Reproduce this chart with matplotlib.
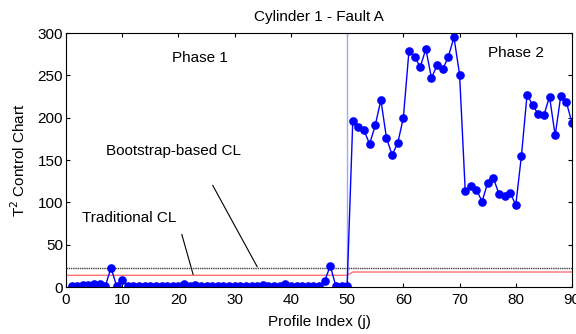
import numpy as np
import matplotlib
matplotlib.use("Agg")
import matplotlib.pyplot as plt

plt.rcParams["font.family"] = ["Liberation Sans", "DejaVu Sans"]

# T^2 statistic per profile index (1..90)
phase1_t2 = [1.0, 1.0, 2.0, 2.0, 3.5, 3.5, 1.0, 23.0, 1.0, 8.5,
             1.0, 1.0, 1.0, 1.0, 1.0, 1.0, 1.0, 1.0, 1.0, 1.0,
             3.0, 1.5, 2.0, 1.0, 1.0, 1.0, 1.0, 1.5, 1.0, 1.0,
             1.5, 1.0, 1.0, 1.0, 2.5, 1.0, 1.0, 1.0, 3.0, 1.0,
             1.0, 1.0, 1.0, 1.0, 1.0, 7.0, 25.0, 1.0, 1.0, 1.0]
phase2_t2 = [196, 189, 185, 169, 191, 221, 176, 156, 170, 200,
             279, 272, 260, 281, 247, 262, 257, 272, 295, 251,
             114, 119, 115, 101, 123, 129, 110, 107, 111, 97,
             155, 227, 215, 204, 203, 225, 179, 226, 218, 194]
bootstrap_cl = 22.0
traditional_cl_p1 = 13.8
traditional_cl_p2 = 17.7

t2 = np.array(phase1_t2 + phase2_t2)
j = np.arange(1, len(t2) + 1)
trad_cl = np.array([traditional_cl_p1] * len(phase1_t2) + [traditional_cl_p2] * len(phase2_t2))

fig = plt.figure(figsize=(5.76, 3.34), dpi=100)
ax = fig.add_axes([0.1146, 0.1407, 0.8785, 0.7603])

fs = 11
ax.plot([0, 90], [bootstrap_cl, bootstrap_cl], color="0.25", lw=1, ls=(0, (1, 0.6)))
ax.plot(np.r_[0, j], np.r_[traditional_cl_p1, trad_cl], color="#ff7070", lw=1)
ax.plot([50, 50], [0, 300], color="#a0a8ff", lw=1)
ax.plot(j, t2, color="#0000ff", lw=1, marker="o", ms=5.2)

ax.text(23.9, 271, "Phase 1", ha="center", va="center", fontsize=fs)
ax.text(80, 276, "Phase 2", ha="center", va="center", fontsize=fs)
ax.text(7.2, 161, "Bootstrap-based CL", ha="left", va="center", fontsize=fs)
ax.text(2.8, 82, "Traditional CL", ha="left", va="center", fontsize=fs)
ax.plot([26.1, 34.0], [120, 24], color="black", lw=0.8)
ax.plot([20.6, 22.6], [62, 15], color="black", lw=0.8)

ax.set_xlim(0, 90)
ax.set_ylim(0, 300)
ax.set_xticks(range(0, 91, 10))
ax.set_yticks(range(0, 301, 50))
ax.tick_params(direction="in", top=True, right=True, labelsize=fs, length=3)
ax.tick_params(axis="x", pad=4)
ax.tick_params(axis="y", pad=2)
ax.set_title("Cylinder 1 - Fault A", fontsize=fs, pad=9)
ax.set_xlabel("Profile Index (j)", fontsize=fs, labelpad=6)
ax.set_ylabel("T$^2$ Control Chart", fontsize=fs, labelpad=7)

plt.savefig("out.png", dpi=100)
plt.close()
